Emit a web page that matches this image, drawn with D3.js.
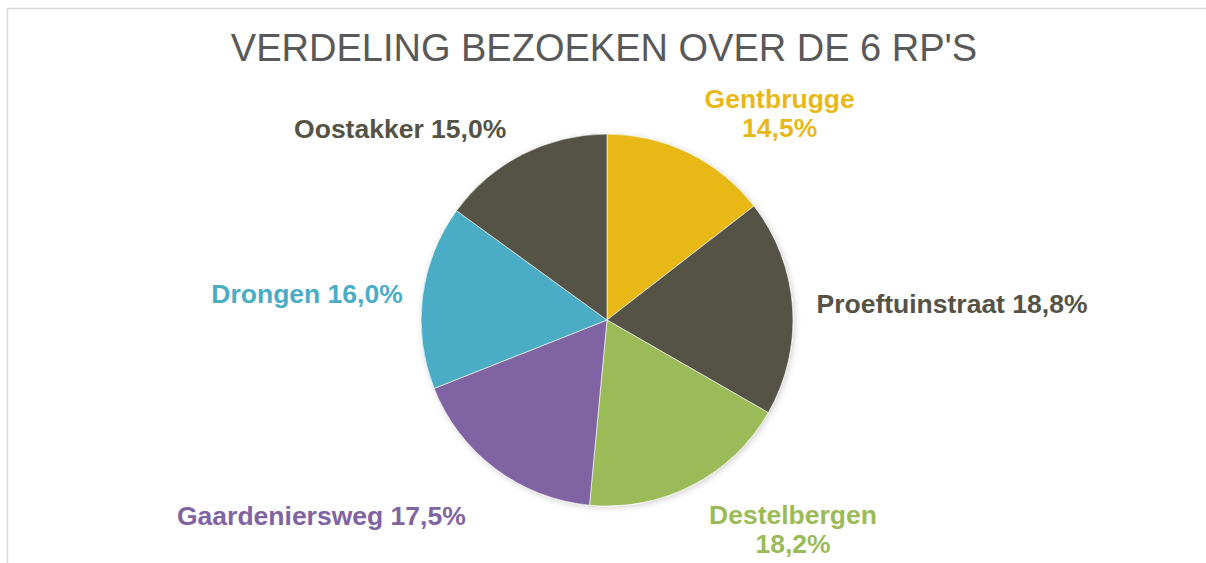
<!DOCTYPE html>
<html>
<head>
<meta charset="utf-8">
<title>Verdeling bezoeken</title>
<script src="https://cdnjs.cloudflare.com/ajax/libs/d3/7.8.5/d3.min.js"></script>
<style>
  body { margin: 0; background: #fff; }
  svg text { font-family: "Liberation Sans", Arial, sans-serif; }
</style>
</head>
<body>
<script>
// data
var categories = ["Gentbrugge", "Proeftuinstraat", "Destelbergen", "Gaardeniersweg", "Drongen", "Oostakker"];
var shares = [14.5, 18.8, 18.2, 17.5, 16.0, 15.0];
var labelTexts = ["14,5%", "18,8%", "18,2%", "17,5%", "16,0%", "15,0%"];
var colors = ["#E8B818", "#555345", "#9BBB59", "#8064A2", "#4BACC6", "#555345"];

// layout for labels: anchor, whether the value goes on a second line, nudge from the label arc point
var labelLayout = [
  { anchor: "middle", twoLines: true,  dx: 75,  dy: -8 },
  { anchor: "start",  twoLines: false, dx: -12, dy: -1 },
  { anchor: "middle", twoLines: true,  dx: 84,  dy: 12 },
  { anchor: "end",    twoLines: false, dx: -8,  dy: 18 },
  { anchor: "end",    twoLines: false, dx: 16,  dy: 2 },
  { anchor: "end",    twoLines: false, dx: 0,   dy: 7 }
];

var width = 1206, height = 563;
var cx = 607, cy = 320, r = 186;

var svg = d3.select("body").append("svg")
    .attr("width", width)
    .attr("height", height);

// chart area border
svg.append("rect")
    .attr("x", 7.5).attr("y", 8.5)
    .attr("width", 1220).attr("height", 600)
    .attr("fill", "#fff")
    .attr("stroke", "#d9d9d9")
    .attr("stroke-width", 1.5);

svg.append("text")
    .attr("x", cx - 3)
    .attr("y", 61)
    .attr("text-anchor", "middle")
    .attr("fill", "#595959")
    .style("font-size", "38px")
    .text("VERDELING BEZOEKEN OVER DE 6 RP'S");

var defs = svg.append("defs");
var f = defs.append("filter").attr("id", "shadow")
    .attr("x", "-20%").attr("y", "-20%").attr("width", "140%").attr("height", "140%");
f.append("feDropShadow")
    .attr("dx", 1.5).attr("dy", 1.5)
    .attr("stdDeviation", 3)
    .attr("flood-color", "#000")
    .attr("flood-opacity", 0.18);

var pie = d3.pie().sort(null).value(function(d){ return d; });
var arcs = pie(shares);
var arc = d3.arc().innerRadius(0).outerRadius(r);

var g = svg.append("g").attr("transform", "translate(" + cx + "," + cy + ")");

g.append("g").attr("filter", "url(#shadow)")
  .selectAll("path")
    .data(arcs)
  .enter().append("path")
    .attr("d", arc)
    .attr("fill", function(d, i){ return colors[i]; })
    .attr("stroke", "#fff")
    .attr("stroke-width", 0.6);

// labels placed just outside the pie along each slice's middle angle
var labelR = 222;
var labelArc = d3.arc().innerRadius(labelR).outerRadius(labelR);

arcs.forEach(function(d, i){
  var lay = labelLayout[i];
  var p = labelArc.centroid(d);
  var x = p[0] + lay.dx, y = p[1] + lay.dy;
  var t = g.append("text")
      .attr("text-anchor", lay.anchor)
      .attr("fill", colors[i])
      .style("font-size", "26.5px")
      .style("font-weight", "bold");
  if (lay.twoLines) {
    t.append("tspan").attr("x", x).attr("y", y - 5).text(categories[i]);
    t.append("tspan").attr("x", x).attr("y", y + 24).text(labelTexts[i]);
  } else {
    t.attr("x", x).attr("y", y + 9).text(categories[i] + " " + labelTexts[i]);
  }
});
</script>
</body>
</html>
